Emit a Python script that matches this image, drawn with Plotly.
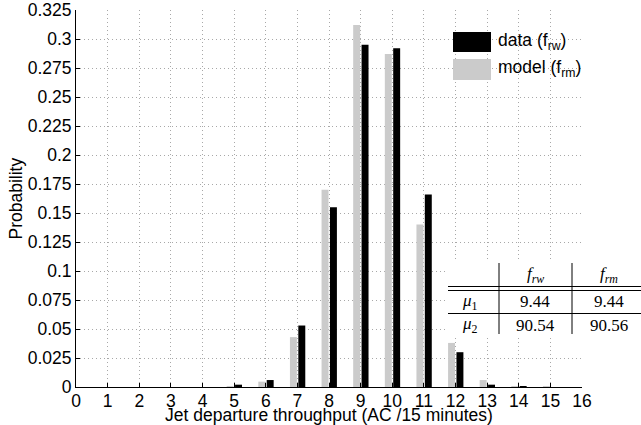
import plotly.graph_objects as go

# ---- data ----
throughput = list(range(0, 17))
data_frw = [0, 0, 0, 0, 0, 0.002, 0.006, 0.053, 0.155, 0.295, 0.292, 0.166, 0.030, 0.002, 0.0003, 0, 0]
model_frm = [0, 0, 0, 0, 0, 0.0005, 0.0046, 0.043, 0.170, 0.312, 0.287, 0.140, 0.038, 0.006, 0.0008, 0.0001, 0]
ytick_vals = [i * 0.025 for i in range(14)]
ytick_text = ["0", "0.025", "0.05", "0.075", "0.1", "0.125", "0.15", "0.175", "0.2",
              "0.225", "0.25", "0.275", "0.3", "0.325"]
table_header = ["<i>f</i><sub><i>rw</i></sub>", "<i>f</i><sub><i>rm</i></sub>"]
table_rows = ["<i>μ</i><sub>1</sub>", "<i>μ</i><sub>2</sub>"]
table_vals = [["9.44", "9.44"], ["90.54", "90.56"]]

W, H = 641, 425
L, R, T, B = 76, 59, 10, 38

def px(x):
    return (x - L) / (W - L - R)

def py(y):
    return (H - B - y) / (H - T - B)

fig = go.Figure()
fig.add_trace(go.Bar(x=throughput, y=model_frm, name="model (f_rm)",
                     marker=dict(color="#cbcbcb", line=dict(width=0)),
                     offset=-0.235, width=0.22, showlegend=False))
fig.add_trace(go.Bar(x=throughput, y=data_frw, name="data (f_rw)",
                     marker=dict(color="#000000", line=dict(width=0)),
                     offset=0.03, width=0.22, showlegend=False))

font_sans = "Liberation Sans, Arial, Helvetica, sans-serif"
font_serif = "Liberation Serif, Times New Roman, serif"
grid_col = "#a8a8a8"
grid_dash = "1px,3px"

fig.update_layout(
    width=W, height=H,
    margin=dict(l=L, r=R, t=T, b=B, pad=0),
    paper_bgcolor="white", plot_bgcolor="white",
    barmode="overlay",
    font=dict(family=font_sans, size=17.5, color="black"),
    xaxis=dict(range=[0, 16], tickvals=throughput, ticks="inside", ticklen=4,
               tickcolor="black", showline=True, linecolor="black", linewidth=1,
               showgrid=True, gridcolor=grid_col, griddash=grid_dash, gridwidth=1,
               zeroline=False, tickfont=dict(size=17.5), automargin=False,
               ticklabelstandoff=-2),
    yaxis=dict(range=[0, 0.325], tickvals=ytick_vals, ticktext=ytick_text,
               ticks="inside", ticklen=4, tickcolor="black",
               showline=True, linecolor="black", linewidth=1,
               showgrid=True, gridcolor=grid_col, griddash=grid_dash, gridwidth=1,
               zeroline=False, tickfont=dict(size=17.5), automargin=False),
)

shapes = []
annotations = []

# axis titles
annotations.append(dict(x=0.5, y=py(415), xref="paper", yref="paper",
                        text="Jet departure throughput (AC /15 minutes)",
                        showarrow=False, font=dict(size=17.5), xanchor="center", yanchor="middle"))
annotations.append(dict(x=px(15), y=0.5, xref="paper", yref="paper", text="Probability",
                        textangle=-90, showarrow=False, font=dict(size=17.5),
                        xanchor="center", yanchor="middle"))

# legend (drawn manually to match large swatches)
legend_items = [("data (f<sub>rw</sub>)", "#000000", 32, 52, 41),
                ("model (f<sub>rm</sub>)", "#cbcbcb", 59, 80, 69)]
for text, col, y0, y1, ym in legend_items:
    shapes.append(dict(type="rect", xref="paper", yref="paper",
                       x0=px(453), x1=px(491), y0=py(y1), y1=py(y0),
                       fillcolor=col, line=dict(width=0), layer="above"))
    annotations.append(dict(x=px(496), y=py(ym), xref="paper", yref="paper", text=text,
                            showarrow=False, xanchor="left", yanchor="middle",
                            font=dict(size=17.5)))

# table with white background
shapes.append(dict(type="rect", xref="paper", yref="paper",
                   x0=px(447), x1=px(645), y0=py(336), y1=py(261),
                   fillcolor="white", line=dict(width=0), layer="above"))
for xv in (499, 572):
    shapes.append(dict(type="line", xref="paper", yref="paper",
                       x0=px(xv), x1=px(xv), y0=py(334), y1=py(263),
                       line=dict(color="black", width=1), layer="above"))
for yv in (286.5, 290.5, 313.5):
    shapes.append(dict(type="line", xref="paper", yref="paper",
                       x0=px(448), x1=px(645), y0=py(yv), y1=py(yv),
                       line=dict(color="black", width=1), layer="above"))

col_x = [535, 609]
for hx, htxt in zip(col_x, table_header):
    annotations.append(dict(x=px(hx), y=py(275), xref="paper", yref="paper", text=htxt,
                            showarrow=False, xanchor="center", yanchor="middle",
                            font=dict(family=font_serif, size=17)))
row_y = [301.5, 325]
for ry, rtxt, vals in zip(row_y, table_rows, table_vals):
    annotations.append(dict(x=px(470), y=py(ry), xref="paper", yref="paper", text=rtxt,
                            showarrow=False, xanchor="center", yanchor="middle",
                            font=dict(family=font_serif, size=17)))
    for cx, v in zip(col_x, vals):
        annotations.append(dict(x=px(cx), y=py(ry), xref="paper", yref="paper", text=v,
                                showarrow=False, xanchor="center", yanchor="middle",
                                font=dict(family=font_serif, size=17)))

fig.update_layout(shapes=shapes, annotations=annotations)
fig.write_html("out.html",
               config={"displayModeBar": False},
               post_script="document.body.style.margin='0';document.body.style.overflow='hidden';")
